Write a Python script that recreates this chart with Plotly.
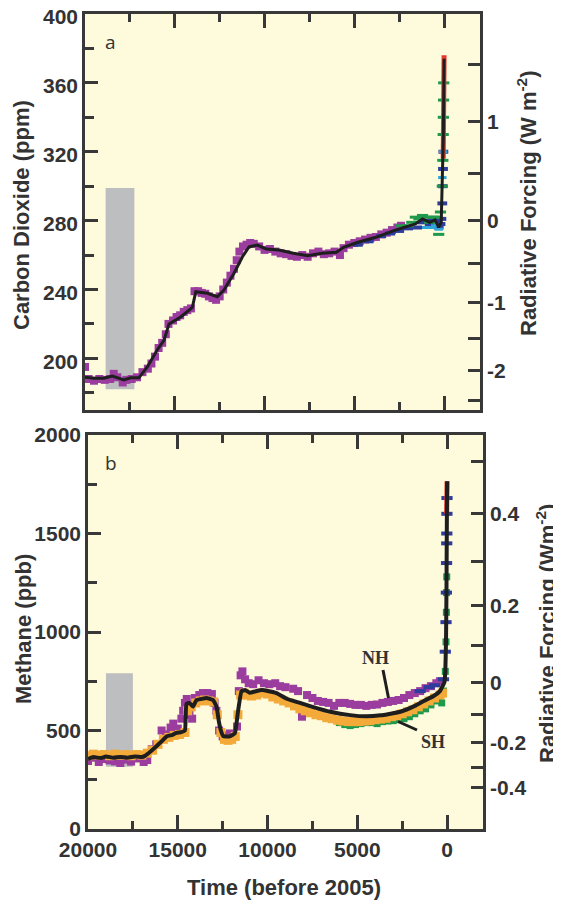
import math
import plotly.graph_objects as go

# the page body has an 8px margin, so the figure is drawn 8px in from the window corner
OFF = 8
WIN_W, WIN_H = 561, 903
W, H = WIN_W - OFF, WIN_H - OFF

# ---------------- Panel a: Carbon dioxide (ppm) ----------------
co2_line_t = [20000, 19500, 18950, 18480, 17830, 17460, 17000, 16530, 15970, 15600, 15320,
              14670, 14020, 13830, 13180, 12630, 12260, 11700, 11230, 10860, 10400, 9900,
              9200, 8400, 7600, 6800, 6000, 5600, 4800, 3800, 2800, 2200, 1600, 1200, 800,
              500, 300, 160, 100, 40, 0]
co2_line_v = [189, 188.4, 188.4, 189.7, 187.4, 188.7, 188.7, 195, 205, 210.5, 220,
              224, 229.6, 238.7, 237.8, 235.8, 239.7, 249.4, 259, 264.8, 265.8, 263.5,
              262.9, 261, 259.6, 261, 261.6, 264.5, 267.4, 270.3, 274.2, 276.1, 278.1, 281, 279,
              280.4, 276.1, 279, 299, 330, 374]

co2_purple_t = [20000, 19800, 19500, 19200, 18900, 18600, 18400, 18200, 17900, 17700, 17400,
                17100, 16800, 16500, 16300, 16100, 15900, 15700, 15500, 15350, 15100, 14900,
                14700, 14500, 14300, 14100, 13900, 13700, 13500, 13300, 13100, 12900, 12700,
                12500, 12300, 12100, 11900, 11700, 11550, 11400, 11200, 11000, 10800, 10600,
                10300, 10000, 9700, 9400, 9100, 8800, 8500, 8200, 7900, 7600, 7300, 7000,
                6700, 6400, 6100, 5800, 5600, 5300, 5000, 4700, 4400, 4100, 3800, 3500,
                3200, 2900, 2600, 2400]
co2_purple_v = [195, 188, 187, 188, 187.5, 188, 191, 189, 186, 187.5, 188,
                189, 192, 194, 197, 201, 206, 209, 214, 220, 222, 224,
                225, 227, 228, 229, 239, 239, 238, 237.5, 236, 235, 234,
                236, 240, 244, 248, 252, 257, 262, 265, 266, 267, 266.5,
                265, 263, 263.5, 262, 261, 260.5, 259.5, 259, 260, 259, 261, 262,
                260.5, 261, 262, 260, 264, 266, 267, 268, 269, 270, 270.5, 272,
                273, 274.5, 276, 277]

co2_blue_t = [4800, 4200, 3500, 3000, 2500, 2000, 1500, 1200, 1000, 800, 600, 400, 300,
              200, 150, 100, 80, 60, 40]
co2_blue_v = [266, 268, 271, 272.5, 274, 275.5, 276, 279, 280, 278, 281, 280, 276,
              278, 281, 290, 300, 310, 320]

co2_green_t = [2400, 2000, 1800, 1600, 1400, 1200, 1000, 800, 600, 400, 300, 200, 100,
               70, 50, 40, 30, 20]
co2_green_v = [277, 277, 279, 282, 281, 283, 282, 279, 282, 282, 272, 285, 300,
               315, 330, 340, 350, 360]

co2_cyan_t = [1000, 700, 500, 300, 100, 50]
co2_cyan_v = [276, 276, 277, 275, 305, 320]

co2_red_t = [48, 30, 15, 0]
co2_red_v = [316, 326, 345, 376]

co2_box_t = [18850, 17250]
co2_box_v = [182, 299]

co2_ticks = [200, 240, 280, 320, 360, 400]
co2_minor = [180, 220, 260, 300, 340, 380]
co2_rf_major = [-2, -1, 0, 1]
co2_rf_minor = [-2.5, -1.5, -0.5, 0.5, 1.5]

# ---------------- Panel b: Methane (ppb) ----------------
ch4_line_t = [20000, 19700, 19300, 19000, 18600, 18200, 17800, 17400, 17000, 16850, 16500,
              16190, 15900, 15630, 15300, 15080, 14800, 14600, 14520, 14350, 14150, 13960,
              13700, 13400, 13200, 13030, 12840, 12700, 12600, 12470, 12300, 12100, 11820,
              11640, 11450, 11250, 10990, 10700, 10300, 10050, 9500, 8900, 8190, 7500, 6500,
              5400, 4500, 3700, 2600, 1800, 1300, 750, 400, 280, 150, 100, 60, 35, 20, 10, 0]
ch4_line_v = [355, 365, 360, 368, 362, 366, 362, 368, 366, 370, 395,
              420, 445, 470, 478, 488, 492, 500, 635, 640, 622, 655,
              660, 665, 660, 655, 620, 540, 500, 472, 470, 470, 486,
              600, 700, 705, 692, 698, 705, 702, 690, 660, 640, 620, 595,
              578, 572, 577, 595, 625, 650, 675, 700, 720, 745, 800, 950, 1200, 1450, 1600, 1765]

ch4_purple_t = [20000, 19700, 19400, 19100, 18800, 18500, 18200, 17900, 17600, 17300, 16900,
                16700, 16450, 16200, 15900, 15650, 15400, 15250, 15000, 14800, 14700, 14600,
                14500, 14350, 14200, 14050, 13800, 13600, 13350, 13100, 12950, 12850, 12700,
                12500, 12300, 12100, 11900, 11700, 11600, 11500, 11400, 11250, 11050, 10800,
                10500, 10200, 9900, 9570, 9300, 9000, 8570, 8300, 8080, 7800, 7500, 7200,
                6900, 6600, 6300, 6000, 5700, 5400, 5100, 4800, 4500, 4200, 3900, 3600,
                3300, 3000, 2700, 2400, 2100, 1800, 1500, 1200, 900, 600, 400]
ch4_purple_v = [345, 362, 340, 355, 348, 343, 335, 352, 342, 358, 340,
                350, 405, 430, 500, 480, 515, 535, 510, 560, 600, 640,
                660, 580, 560, 665, 680, 690, 690, 685, 640, 600, 500,
                470, 475, 485, 470, 520, 700, 780, 800, 760, 740, 735,
                755, 740, 735, 740, 725, 720, 712, 700, 570, 680, 665, 650,
                645, 640, 625, 640, 640, 635, 630, 630, 625, 630, 632, 640,
                645, 650, 655, 665, 680, 690, 700, 715, 725, 740, 750]

ch4_orange_t = [20000, 19700, 19400, 19100, 18800, 18500, 18200, 17900, 17600, 17300, 17000,
                16700, 16400, 16100, 15800, 15500, 15200, 14900, 14600, 14450, 14250, 14000,
                13750, 13500, 13250, 13000, 12800, 12600, 12400, 12200, 12000, 11800, 11650,
                11500, 11300, 11100, 10900, 10600, 10300, 10000, 9700, 9400, 9100, 8800, 8500,
                8200, 7900, 7600, 7300, 7000, 6700, 6400, 6100, 5800, 5500, 5200, 4900, 4600,
                4300, 4000, 3700, 3400, 3100, 2800, 2500, 2200, 1900, 1600, 1300, 1000, 700,
                400, 250]
ch4_orange_v = [372, 380, 375, 378, 372, 380, 374, 378, 372, 378, 375,
                385, 400, 430, 455, 465, 475, 480, 490, 600, 620, 640,
                650, 655, 650, 645, 580, 490, 455, 450, 455, 470, 580,
                680, 690, 680, 675, 680, 690, 685, 670, 660, 650, 640, 625,
                610, 600, 590, 580, 575, 565, 560, 552, 548, 545, 545, 545, 548,
                550, 555, 558, 562, 570, 575, 585, 595, 605, 620, 635, 650, 665,
                680, 690]

ch4_green_t = [6000, 5700, 5400, 5100, 4800, 4500, 4200, 3900, 3600, 3300, 3000, 2700,
               2400, 2100, 1800, 1500, 1200, 900, 600, 400, 300, 200, 100, 60, 40, 30, 20]
ch4_green_v = [540, 530, 525, 530, 535, 540, 540, 535, 545, 548, 550, 555,
               560, 570, 585, 600, 610, 630, 650, 660, 640, 700, 800, 950, 1100, 1200, 1280]

ch4_blue_t = [1500, 1000, 700, 200, 100, 60, 40, 30, 20, 15, 10, 5]
ch4_blue_v = [700, 720, 730, 760, 900, 1050, 1200, 1350, 1450, 1500, 1600, 1680]

ch4_red_t = [25, 12, 0]
ch4_red_v = [1600, 1690, 1765]

ch4_box_t = [19000, 17500]
ch4_box_v = [316, 790]

ch4_ticks = [0, 500, 1000, 1500, 2000]
ch4_minor = [250, 750, 1250, 1750]
ch4_rf_major = [-0.4, -0.2, 0, 0.2, 0.4]
ch4_rf_major_text = ["-0.4", "-0.2", "0", "0.2", "0.4"]
ch4_rf_minor = [-0.3, -0.1, 0.1, 0.3, 0.5]

time_ticks = [20000, 15000, 10000, 5000, 0]
time_text = ["20000", "15000", "10000", "5000", "0"]
time_minor = [17500, 12500, 7500, 2500]

# forcing scales (mapping forcing values onto concentration axes)
def co2_of_rf(rf):
    return 280.0 * math.exp(rf / 5.35)

def ch4_of_rf(rf):
    return (math.sqrt(745.0) + rf / 0.0314) ** 2

# ---------------- style ----------------
BG = "#FEFADC"
AX = "#383838"
PURPLE = "#9B3C9F"
ORANGE = "#F3AA38"
GREEN = "#1F9A4C"
BLUE = "#2E3C9C"
CYAN = "#2FA6D9"
RED = "#E2392E"
BLACK = "#1E1E1E"
GRAY = "#BDBEBF"

FAM = "Liberation Sans, Arial, sans-serif"
TICKFONT = dict(family=FAM, size=21, color="#333333", weight="bold")

fig = go.Figure()

def sq(t, v, color, xa, ya, size=6, symbol="square"):
    fig.add_trace(go.Scatter(x=t, y=v, mode="markers", xaxis=xa, yaxis=ya,
                             marker=dict(symbol=symbol, size=size, color=color,
                                         line=dict(width=0)),
                             hoverinfo="skip", showlegend=False))

def dash(t, v, color, xa, ya, size=8, width=4):
    fig.add_trace(go.Scatter(x=t, y=v, mode="markers", xaxis=xa, yaxis=ya,
                             marker=dict(symbol="line-ew", size=size,
                                         line=dict(width=width, color=color)),
                             hoverinfo="skip", showlegend=False))

# panel a traces
sq(co2_purple_t, co2_purple_v, PURPLE, "x", "y", size=8)
dash(co2_blue_t, co2_blue_v, BLUE, "x", "y", size=7, width=4)
dash(co2_green_t, co2_green_v, GREEN, "x", "y", size=8, width=3)
dash(co2_cyan_t, co2_cyan_v, CYAN, "x", "y", size=6, width=3)
fig.add_trace(go.Scatter(x=co2_red_t, y=co2_red_v, mode="lines", xaxis="x", yaxis="y",
                         line=dict(color=RED, width=5), hoverinfo="skip", showlegend=False))
fig.add_trace(go.Scatter(x=co2_line_t, y=co2_line_v, mode="lines", xaxis="x", yaxis="y",
                         line=dict(color=BLACK, width=3), hoverinfo="skip", showlegend=False))
# same CO2 curve expressed on the forcing axis (kept invisible, it only binds the right axis)
fig.add_trace(go.Scatter(x=co2_line_t, y=co2_line_v, mode="lines", xaxis="x", yaxis="y2",
                         line=dict(color="rgba(0,0,0,0)", width=0), hoverinfo="skip",
                         showlegend=False))

# panel b traces
sq(ch4_purple_t, ch4_purple_v, PURPLE, "x2", "y3", size=8)
sq(ch4_green_t, ch4_green_v, GREEN, "x2", "y3", size=7)
sq(ch4_orange_t, ch4_orange_v, ORANGE, "x2", "y3", size=9)
dash(ch4_blue_t, ch4_blue_v, BLUE, "x2", "y3", size=8, width=4)
fig.add_trace(go.Scatter(x=ch4_red_t, y=ch4_red_v, mode="lines", xaxis="x2", yaxis="y3",
                         line=dict(color=RED, width=5), hoverinfo="skip", showlegend=False))
fig.add_trace(go.Scatter(x=ch4_line_t, y=ch4_line_v, mode="lines", xaxis="x2", yaxis="y3",
                         line=dict(color=BLACK, width=4, shape="spline", smoothing=0.3),
                         hoverinfo="skip", showlegend=False))
fig.add_trace(go.Scatter(x=ch4_line_t, y=ch4_line_v, mode="lines", xaxis="x2", yaxis="y4",
                         line=dict(color="rgba(0,0,0,0)", width=0), hoverinfo="skip",
                         showlegend=False))

# geometry (window pixels -> paper)
def px(x):
    return (x - OFF) / W

def py(y):
    return 1 - (y - OFF) / H

A_X = [px(85), px(480)]
A_Y = [py(410), py(14)]
B_X = [px(88), px(483)]
B_Y = [py(829), py(435)]

common_x = dict(range=[20000, -2000], showgrid=False, zeroline=False, showline=True,
                linecolor=AX, linewidth=2.5, mirror="ticks", ticks="inside", ticklen=14,
                tickwidth=2.5, tickcolor=AX, tickmode="array", tickvals=time_ticks,
                ticktext=time_text, automargin=False, ticklabeloverflow="allow",
                minor=dict(tickmode="array", tickvals=time_minor, ticks="inside",
                           ticklen=8, tickwidth=2.5, tickcolor=AX),
                tickfont=TICKFONT, fixedrange=True)

left_y = dict(showgrid=False, zeroline=False, showline=True, linecolor=AX, linewidth=2.5,
              ticks="inside", ticklen=13, tickwidth=2.5, tickcolor=AX, tickmode="array",
              tickfont=TICKFONT, automargin=False, fixedrange=True,
              ticklabeloverflow="allow")

right_y = dict(showgrid=False, zeroline=False, showline=True, linecolor=AX, linewidth=2.5,
               ticks="inside", ticklen=12, tickwidth=2.5, tickcolor=AX, tickmode="array",
               side="right", tickfont=TICKFONT, automargin=False, fixedrange=True,
               showticklabels=True, ticklabeloverflow="allow")

fig.update_layout(
    width=W, height=H, autosize=False,
    margin=dict(l=0, r=0, t=0, b=0, pad=0, autoexpand=False),
    paper_bgcolor="white", plot_bgcolor=BG, showlegend=False,
    xaxis=dict(common_x, domain=A_X, anchor="y", showticklabels=False),
    yaxis=dict(left_y, domain=A_Y, anchor="x", range=[170, 400], tickvals=co2_ticks,
               ticktext=[str(v) for v in co2_ticks], ticklabelshift=3,
               minor=dict(tickmode="array", tickvals=co2_minor, ticks="inside", ticklen=9,
                          tickwidth=2.5, tickcolor=AX)),
    yaxis2=dict(right_y, domain=A_Y, anchor="x", overlaying="y", range=[170, 400],
                tickvals=[co2_of_rf(r) for r in co2_rf_major],
                ticktext=[str(r) for r in co2_rf_major],
                minor=dict(tickmode="array", tickvals=[co2_of_rf(r) for r in co2_rf_minor],
                           ticks="inside", ticklen=12, tickwidth=2.5, tickcolor=AX)),
    xaxis2=dict(common_x, domain=B_X, anchor="y3", showticklabels=True),
    yaxis3=dict(left_y, domain=B_Y, anchor="x2", range=[0, 2000], tickvals=ch4_ticks,
                ticktext=[str(v) for v in ch4_ticks],
                minor=dict(tickmode="array", tickvals=ch4_minor, ticks="inside", ticklen=9,
                           tickwidth=2.5, tickcolor=AX)),
    yaxis4=dict(right_y, domain=B_Y, anchor="x2", overlaying="y3", range=[0, 2000],
                tickvals=[ch4_of_rf(r) for r in ch4_rf_major], ticktext=ch4_rf_major_text,
                minor=dict(tickmode="array", tickvals=[ch4_of_rf(r) for r in ch4_rf_minor],
                           ticks="inside", ticklen=12, tickwidth=2.5, tickcolor=AX)),
)

# grey boxes
fig.add_shape(type="rect", xref="x", yref="y", x0=co2_box_t[0], x1=co2_box_t[1],
              y0=co2_box_v[0], y1=co2_box_v[1], fillcolor=GRAY, line=dict(width=0), layer="below")
fig.add_shape(type="rect", xref="x2", yref="y3", x0=ch4_box_t[0], x1=ch4_box_t[1],
              y0=ch4_box_v[0], y1=ch4_box_v[1], fillcolor=GRAY, line=dict(width=0), layer="below")

# NH / SH pointer lines
fig.add_shape(type="line", xref="paper", yref="paper", x0=px(383), y0=py(670), x1=px(388.5),
              y1=py(698), line=dict(color=BLACK, width=3))
fig.add_shape(type="line", xref="paper", yref="paper", x0=px(398), y0=py(721.5), x1=px(417),
              y1=py(730), line=dict(color=BLACK, width=3))

TITLE_FONT = dict(family=FAM, size=22, color="#333333", weight="bold")

def ann(text, x, y, font, angle=0):
    fig.add_annotation(text=text, xref="paper", yref="paper", x=px(x), y=py(y),
                       xanchor="center", yanchor="middle", showarrow=False,
                       textangle=angle, font=font)

ann("Carbon Dioxide (ppm)", 21, 215, TITLE_FONT, -90)
ann("Radiative Forcing (W m<sup>-2</sup>)", 527, 203, TITLE_FONT, -90)
ann("Methane (ppb)", 23, 629, TITLE_FONT, -90)
ann("Radiative Forcing (Wm<sup>-2</sup>)", 546, 634, TITLE_FONT, -90)
ann("Time (before 2005)", 284, 887, TITLE_FONT)

LETTER = dict(family="Open Sans, sans-serif", size=19, color="#333333")
ann("a", 110, 42, LETTER)
ann("b", 111, 463, LETTER)

SERIF = dict(family="Liberation Serif, Times New Roman, serif", size=18, color="#333333", weight="bold")
ann("NH", 375, 658, SERIF)
ann("SH", 433, 742, SERIF)

fig.write_html("out.html")
